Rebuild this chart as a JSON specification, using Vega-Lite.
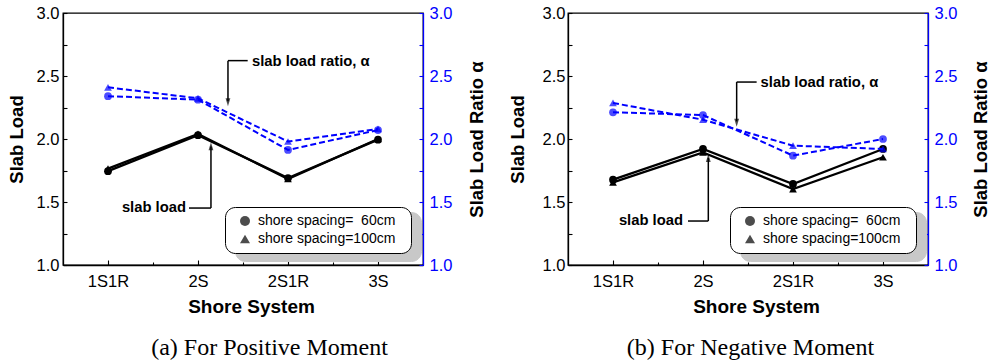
{
  "$schema": "https://vega.github.io/schema/vega-lite/v6.json",
  "background": "white",
  "padding": {"left": 6, "top": 4, "right": 0, "bottom": 0},
  "spacing": 19,
  "config": {
    "view": {"stroke": "black", "strokeWidth": 1.3},
    "axis": {"grid": false, "labelFont": "Liberation Sans", "labelFontSize": 16.5, "labelColor": "black", "titleFont": "Liberation Sans", "titleFontSize": 18.5, "titleFontWeight": "bold", "titleColor": "black", "domainColor": "black", "tickColor": "black", "domainWidth": 1.3, "tickWidth": 1.1},
    "legend": {"labelFont": "Liberation Sans", "labelFontSize": 14, "labelColor": "black"}
  },
  "resolve": {"scale": {"shape": "independent", "opacity": "independent"}},
  "datasets": {
    "values": [
      {"panel": "a", "system": "1S1R", "spacing": 60, "load": 1.745, "ratio": 2.34},
      {"panel": "a", "system": "1S1R", "spacing": 100, "load": 1.765, "ratio": 2.41},
      {"panel": "a", "system": "2S", "spacing": 60, "load": 2.03, "ratio": 2.312},
      {"panel": "a", "system": "2S", "spacing": 100, "load": 2.04, "ratio": 2.323},
      {"panel": "a", "system": "2S1R", "spacing": 60, "load": 1.69, "ratio": 1.913},
      {"panel": "a", "system": "2S1R", "spacing": 100, "load": 1.683, "ratio": 1.98},
      {"panel": "a", "system": "3S", "spacing": 60, "load": 1.995, "ratio": 2.071},
      {"panel": "a", "system": "3S", "spacing": 100, "load": 2.0, "ratio": 2.08},
      {"panel": "b", "system": "1S1R", "spacing": 60, "load": 1.677, "ratio": 2.212},
      {"panel": "b", "system": "1S1R", "spacing": 100, "load": 1.656, "ratio": 2.286},
      {"panel": "b", "system": "2S", "spacing": 60, "load": 1.921, "ratio": 2.19},
      {"panel": "b", "system": "2S", "spacing": 100, "load": 1.894, "ratio": 2.153},
      {"panel": "b", "system": "2S1R", "spacing": 60, "load": 1.643, "ratio": 1.868},
      {"panel": "b", "system": "2S1R", "spacing": 100, "load": 1.603, "ratio": 1.947},
      {"panel": "b", "system": "3S", "spacing": 60, "load": 1.921, "ratio": 2.0},
      {"panel": "b", "system": "3S", "spacing": 100, "load": 1.855, "ratio": 1.921}
    ],
    "annotations": [
      {"panel": "a", "kind": "seg", "x": 2.552, "x2": 2.333, "y": 2.622, "y2": 2.622},
      {"panel": "a", "kind": "seg", "x": 2.333, "x2": 2.333, "y": 2.622, "y2": 2.3},
      {"panel": "a", "kind": "down", "x": 2.333, "y": 2.259},
      {"panel": "a", "kind": "ratioLabel", "x": 2.6, "y": 2.609, "text": "slab load ratio, α"},
      {"panel": "a", "kind": "seg", "x": 1.9, "x2": 2.144, "y": 1.452, "y2": 1.452},
      {"panel": "a", "kind": "seg", "x": 2.144, "x2": 2.144, "y": 1.452, "y2": 1.94},
      {"panel": "a", "kind": "up", "x": 2.144, "y": 1.974},
      {"panel": "a", "kind": "loadLabel", "x": 1.867, "y": 1.452, "text": "slab load"},
      {"panel": "b", "kind": "seg", "x": 2.596, "x2": 2.374, "y": 2.452, "y2": 2.452},
      {"panel": "b", "kind": "seg", "x": 2.374, "x2": 2.374, "y": 2.452, "y2": 2.14},
      {"panel": "b", "kind": "down", "x": 2.374, "y": 2.098},
      {"panel": "b", "kind": "ratioLabel", "x": 2.64, "y": 2.444, "text": "slab load ratio, α"},
      {"panel": "b", "kind": "seg", "x": 1.833, "x2": 2.059, "y": 1.349, "y2": 1.349},
      {"panel": "b", "kind": "seg", "x": 2.059, "x2": 2.059, "y": 1.349, "y2": 1.85},
      {"panel": "b", "kind": "up", "x": 2.059, "y": 1.881},
      {"panel": "b", "kind": "loadLabel", "x": 1.778, "y": 1.349, "text": "slab load"}
    ]
  },
  "hconcat": [
    {
      "width": 360, "height": 252,
      "title": {"text": "(a) For Positive Moment", "orient": "bottom", "anchor": "middle", "frame": "group", "font": "Liberation Serif", "fontSize": 24, "fontWeight": "normal", "color": "black", "offset": 19, "dx": 26.5},
      "resolve": {"scale": {"x": "independent", "y": "independent"}},
      "layer": [
        {
          "data": {"name": "values"}, "transform": [{"filter": "datum.panel == 'a'"}],
          "mark": {"type": "line", "color": "black", "strokeWidth": 2.3},
          "encoding": {
            "x": {"field": "system", "type": "ordinal", "scale": {"type": "point", "domain": ["1S1R", "2S", "2S1R", "3S"], "padding": 0.5}, "axis": {"orient": "bottom", "title": "Shore System", "labelAngle": 0, "tickSize": -5, "labelPadding": 13, "titlePadding": 8, "titleX": 188, "titleFontSize": 19}},
            "y": {"field": "load", "type": "quantitative", "scale": {"domain": [1, 3], "nice": false, "zero": false}, "axis": {"orient": "left", "title": "Slab Load", "values": [1, 1.25, 1.5, 1.75, 2, 2.25, 2.5, 2.75, 3], "labelExpr": "datum.value % 0.5 == 0 ? format(datum.value, '.1f') : ''", "labelOverlap": false, "tickSize": -4, "labelPadding": 8, "titlePadding": 10}},
            "detail": {"field": "spacing", "type": "nominal"}
          }
        },
        {
          "data": {"name": "values"}, "transform": [{"filter": "datum.panel == 'a'"}],
          "mark": {"type": "point", "filled": true, "color": "black", "size": 60},
          "encoding": {
            "x": {"field": "system", "type": "ordinal", "scale": {"type": "point", "domain": ["1S1R", "2S", "2S1R", "3S"], "padding": 0.5}, "axis": null},
            "y": {"field": "load", "type": "quantitative", "scale": {"domain": [1, 3], "nice": false, "zero": false}, "axis": null},
            "shape": {"field": "spacing", "type": "nominal", "scale": {"domain": [60, 100], "range": ["circle", "triangle-up"]}, "legend": {"title": null, "orient": "bottom-right", "offset": 12, "fillColor": "white", "strokeColor": "black", "cornerRadius": 10, "padding": 7, "symbolSize": 100, "symbolOffset": 6, "labelOffset": 6, "rowPadding": 4, "labelLimit": 300, "symbolFillColor": "black", "symbolStrokeWidth": 0, "labelExpr": "'shore spacing=' + (datum.value == 60 ? '\u00a0\u00a060' : '100') + 'cm\u00a0\u00a0\u200b'", "zindex": 2}},
            "opacity": {"field": "spacing", "type": "ordinal", "scale": {"domain": [60, 100], "range": [1, 1]}, "legend": {"title": null, "orient": "none", "legendX": 172, "legendY": 199, "fillColor": "#c8c8c8", "strokeColor": "#c8c8c8", "cornerRadius": 10, "padding": 7, "symbolSize": 100, "symbolOffset": 6, "labelOffset": 6, "rowPadding": 4, "labelLimit": 300, "symbolFillColor": "#c8c8c8", "symbolStrokeColor": "#c8c8c8", "labelColor": "#c8c8c8", "labelExpr": "'shore spacing=' + (datum.value == 60 ? '\u00a0\u00a060' : '100') + 'cm\u00a0\u00a0\u200b'", "zindex": 1}}
          }
        },
        {
          "data": {"name": "values"}, "transform": [{"filter": "datum.panel == 'a'"}],
          "mark": {"type": "line", "color": "#0000ff", "strokeWidth": 2, "strokeDash": [6, 3]},
          "encoding": {
            "x": {"field": "system", "type": "ordinal", "scale": {"type": "point", "domain": ["1S1R", "2S", "2S1R", "3S"], "padding": 0.5}, "axis": null},
            "y": {"field": "ratio", "type": "quantitative", "scale": {"domain": [1, 3], "nice": false, "zero": false}, "axis": {"orient": "right", "title": "Slab Load Ratio α", "values": [1, 1.25, 1.5, 1.75, 2, 2.25, 2.5, 2.75, 3], "labelExpr": "datum.value % 0.5 == 0 ? format(datum.value, '.1f') : ''", "labelOverlap": false, "labelColor": "#0000ff", "domainColor": "#0000ff", "tickColor": "#0000ff", "tickSize": -4, "labelPadding": 10, "titlePadding": 16, "titleAngle": 270, "titleBaseline": "top"}},
            "detail": {"field": "spacing", "type": "nominal"}
          }
        },
        {
          "data": {"name": "values"}, "transform": [{"filter": "datum.panel == 'a'"}],
          "mark": {"type": "point", "filled": true, "color": "#0000ff", "size": 60},
          "encoding": {
            "x": {"field": "system", "type": "ordinal", "scale": {"type": "point", "domain": ["1S1R", "2S", "2S1R", "3S"], "padding": 0.5}, "axis": null},
            "y": {"field": "ratio", "type": "quantitative", "scale": {"domain": [1, 3], "nice": false, "zero": false}, "axis": null},
            "shape": {"field": "spacing", "type": "nominal", "scale": {"domain": [60, 100], "range": ["circle", "triangle-up"]}}
          }
        },
        {
          "data": {"name": "annotations"}, "transform": [{"filter": "datum.panel == 'a' && datum.kind == 'seg'"}],
          "mark": {"type": "rule", "color": "black", "strokeWidth": 1.5},
          "encoding": {
            "x": {"field": "x", "type": "quantitative", "scale": {"domain": [0.5, 4.5], "nice": false, "zero": false}, "axis": {"orient": "bottom", "values": [1.5, 2.5, 3.5], "labels": false, "domain": false, "title": null, "tickSize": -3}},
            "x2": {"field": "x2"},
            "y": {"field": "y", "type": "quantitative", "scale": {"domain": [1, 3], "nice": false, "zero": false}, "axis": null},
            "y2": {"field": "y2"}
          }
        },
        {
          "data": {"name": "annotations"}, "transform": [{"filter": "datum.panel == 'a' && datum.kind == 'down'"}],
          "mark": {"type": "point", "filled": true, "color": "black", "size": 64, "shape": "M0,0L-0.6,-2L0.6,-2Z"},
          "encoding": {
            "x": {"field": "x", "type": "quantitative", "scale": {"domain": [0.5, 4.5], "nice": false, "zero": false}, "axis": null},
            "y": {"field": "y", "type": "quantitative", "scale": {"domain": [1, 3], "nice": false, "zero": false}, "axis": null}
          }
        },
        {
          "data": {"name": "annotations"}, "transform": [{"filter": "datum.panel == 'a' && datum.kind == 'up'"}],
          "mark": {"type": "point", "filled": true, "color": "black", "size": 64, "shape": "M0,0L-0.6,2L0.6,2Z"},
          "encoding": {
            "x": {"field": "x", "type": "quantitative", "scale": {"domain": [0.5, 4.5], "nice": false, "zero": false}, "axis": null},
            "y": {"field": "y", "type": "quantitative", "scale": {"domain": [1, 3], "nice": false, "zero": false}, "axis": null}
          }
        },
        {
          "data": {"name": "annotations"}, "transform": [{"filter": "datum.panel == 'a' && datum.kind == 'ratioLabel'"}],
          "mark": {"type": "text", "align": "left", "baseline": "middle", "font": "Liberation Sans", "fontWeight": "bold", "fontSize": 14.8, "color": "black"},
          "encoding": {
            "x": {"field": "x", "type": "quantitative", "scale": {"domain": [0.5, 4.5], "nice": false, "zero": false}, "axis": null},
            "y": {"field": "y", "type": "quantitative", "scale": {"domain": [1, 3], "nice": false, "zero": false}, "axis": null},
            "text": {"field": "text"}
          }
        },
        {
          "data": {"name": "annotations"}, "transform": [{"filter": "datum.panel == 'a' && datum.kind == 'loadLabel'"}],
          "mark": {"type": "text", "align": "right", "baseline": "middle", "font": "Liberation Sans", "fontWeight": "bold", "fontSize": 14.8, "color": "black"},
          "encoding": {
            "x": {"field": "x", "type": "quantitative", "scale": {"domain": [0.5, 4.5], "nice": false, "zero": false}, "axis": null},
            "y": {"field": "y", "type": "quantitative", "scale": {"domain": [1, 3], "nice": false, "zero": false}, "axis": null},
            "text": {"field": "text"}
          }
        }
      ]
    },
    {
      "width": 360, "height": 252,
      "title": {"text": "(b) For Negative Moment", "orient": "bottom", "anchor": "middle", "frame": "group", "font": "Liberation Serif", "fontSize": 24, "fontWeight": "normal", "color": "black", "offset": 19, "dx": 2.5},
      "resolve": {"scale": {"x": "independent", "y": "independent"}},
      "layer": [
        {
          "data": {"name": "values"}, "transform": [{"filter": "datum.panel == 'b'"}],
          "mark": {"type": "line", "color": "black", "strokeWidth": 2.3},
          "encoding": {
            "x": {"field": "system", "type": "ordinal", "scale": {"type": "point", "domain": ["1S1R", "2S", "2S1R", "3S"], "padding": 0.5}, "axis": {"orient": "bottom", "title": "Shore System", "labelAngle": 0, "tickSize": -5, "labelPadding": 13, "titlePadding": 8, "titleX": 188, "titleFontSize": 19}},
            "y": {"field": "load", "type": "quantitative", "scale": {"domain": [1, 3], "nice": false, "zero": false}, "axis": {"orient": "left", "title": "Slab Load", "values": [1, 1.25, 1.5, 1.75, 2, 2.25, 2.5, 2.75, 3], "labelExpr": "datum.value % 0.5 == 0 ? format(datum.value, '.1f') : ''", "labelOverlap": false, "tickSize": -4, "labelPadding": 7, "titlePadding": 15}},
            "detail": {"field": "spacing", "type": "nominal"}
          }
        },
        {
          "data": {"name": "values"}, "transform": [{"filter": "datum.panel == 'b'"}],
          "mark": {"type": "point", "filled": true, "color": "black", "size": 60},
          "encoding": {
            "x": {"field": "system", "type": "ordinal", "scale": {"type": "point", "domain": ["1S1R", "2S", "2S1R", "3S"], "padding": 0.5}, "axis": null},
            "y": {"field": "load", "type": "quantitative", "scale": {"domain": [1, 3], "nice": false, "zero": false}, "axis": null},
            "shape": {"field": "spacing", "type": "nominal", "scale": {"domain": [60, 100], "range": ["circle", "triangle-up"]}, "legend": {"title": null, "orient": "bottom-right", "offset": 12, "fillColor": "white", "strokeColor": "black", "cornerRadius": 10, "padding": 7, "symbolSize": 100, "symbolOffset": 6, "labelOffset": 6, "rowPadding": 4, "labelLimit": 300, "symbolFillColor": "black", "symbolStrokeWidth": 0, "labelExpr": "'shore spacing=' + (datum.value == 60 ? '\u00a0\u00a060' : '100') + 'cm\u00a0\u00a0\u200b'", "zindex": 2}},
            "opacity": {"field": "spacing", "type": "ordinal", "scale": {"domain": [60, 100], "range": [1, 1]}, "legend": {"title": null, "orient": "none", "legendX": 172, "legendY": 199, "fillColor": "#c8c8c8", "strokeColor": "#c8c8c8", "cornerRadius": 10, "padding": 7, "symbolSize": 100, "symbolOffset": 6, "labelOffset": 6, "rowPadding": 4, "labelLimit": 300, "symbolFillColor": "#c8c8c8", "symbolStrokeColor": "#c8c8c8", "labelColor": "#c8c8c8", "labelExpr": "'shore spacing=' + (datum.value == 60 ? '\u00a0\u00a060' : '100') + 'cm\u00a0\u00a0\u200b'", "zindex": 1}}
          }
        },
        {
          "data": {"name": "values"}, "transform": [{"filter": "datum.panel == 'b'"}],
          "mark": {"type": "line", "color": "#0000ff", "strokeWidth": 2, "strokeDash": [6, 3]},
          "encoding": {
            "x": {"field": "system", "type": "ordinal", "scale": {"type": "point", "domain": ["1S1R", "2S", "2S1R", "3S"], "padding": 0.5}, "axis": null},
            "y": {"field": "ratio", "type": "quantitative", "scale": {"domain": [1, 3], "nice": false, "zero": false}, "axis": {"orient": "right", "title": "Slab Load Ratio α", "values": [1, 1.25, 1.5, 1.75, 2, 2.25, 2.5, 2.75, 3], "labelExpr": "datum.value % 0.5 == 0 ? format(datum.value, '.1f') : ''", "labelOverlap": false, "labelColor": "#0000ff", "domainColor": "#0000ff", "tickColor": "#0000ff", "tickSize": -4, "labelPadding": 10, "titlePadding": 15, "titleAngle": 270, "titleBaseline": "top"}},
            "detail": {"field": "spacing", "type": "nominal"}
          }
        },
        {
          "data": {"name": "values"}, "transform": [{"filter": "datum.panel == 'b'"}],
          "mark": {"type": "point", "filled": true, "color": "#0000ff", "size": 60},
          "encoding": {
            "x": {"field": "system", "type": "ordinal", "scale": {"type": "point", "domain": ["1S1R", "2S", "2S1R", "3S"], "padding": 0.5}, "axis": null},
            "y": {"field": "ratio", "type": "quantitative", "scale": {"domain": [1, 3], "nice": false, "zero": false}, "axis": null},
            "shape": {"field": "spacing", "type": "nominal", "scale": {"domain": [60, 100], "range": ["circle", "triangle-up"]}}
          }
        },
        {
          "data": {"name": "annotations"}, "transform": [{"filter": "datum.panel == 'b' && datum.kind == 'seg'"}],
          "mark": {"type": "rule", "color": "black", "strokeWidth": 1.5},
          "encoding": {
            "x": {"field": "x", "type": "quantitative", "scale": {"domain": [0.5, 4.5], "nice": false, "zero": false}, "axis": {"orient": "bottom", "values": [1.5, 2.5, 3.5], "labels": false, "domain": false, "title": null, "tickSize": -3}},
            "x2": {"field": "x2"},
            "y": {"field": "y", "type": "quantitative", "scale": {"domain": [1, 3], "nice": false, "zero": false}, "axis": null},
            "y2": {"field": "y2"}
          }
        },
        {
          "data": {"name": "annotations"}, "transform": [{"filter": "datum.panel == 'b' && datum.kind == 'down'"}],
          "mark": {"type": "point", "filled": true, "color": "black", "size": 64, "shape": "M0,0L-0.6,-2L0.6,-2Z"},
          "encoding": {
            "x": {"field": "x", "type": "quantitative", "scale": {"domain": [0.5, 4.5], "nice": false, "zero": false}, "axis": null},
            "y": {"field": "y", "type": "quantitative", "scale": {"domain": [1, 3], "nice": false, "zero": false}, "axis": null}
          }
        },
        {
          "data": {"name": "annotations"}, "transform": [{"filter": "datum.panel == 'b' && datum.kind == 'up'"}],
          "mark": {"type": "point", "filled": true, "color": "black", "size": 64, "shape": "M0,0L-0.6,2L0.6,2Z"},
          "encoding": {
            "x": {"field": "x", "type": "quantitative", "scale": {"domain": [0.5, 4.5], "nice": false, "zero": false}, "axis": null},
            "y": {"field": "y", "type": "quantitative", "scale": {"domain": [1, 3], "nice": false, "zero": false}, "axis": null}
          }
        },
        {
          "data": {"name": "annotations"}, "transform": [{"filter": "datum.panel == 'b' && datum.kind == 'ratioLabel'"}],
          "mark": {"type": "text", "align": "left", "baseline": "middle", "font": "Liberation Sans", "fontWeight": "bold", "fontSize": 14.8, "color": "black"},
          "encoding": {
            "x": {"field": "x", "type": "quantitative", "scale": {"domain": [0.5, 4.5], "nice": false, "zero": false}, "axis": null},
            "y": {"field": "y", "type": "quantitative", "scale": {"domain": [1, 3], "nice": false, "zero": false}, "axis": null},
            "text": {"field": "text"}
          }
        },
        {
          "data": {"name": "annotations"}, "transform": [{"filter": "datum.panel == 'b' && datum.kind == 'loadLabel'"}],
          "mark": {"type": "text", "align": "right", "baseline": "middle", "font": "Liberation Sans", "fontWeight": "bold", "fontSize": 14.8, "color": "black"},
          "encoding": {
            "x": {"field": "x", "type": "quantitative", "scale": {"domain": [0.5, 4.5], "nice": false, "zero": false}, "axis": null},
            "y": {"field": "y", "type": "quantitative", "scale": {"domain": [1, 3], "nice": false, "zero": false}, "axis": null},
            "text": {"field": "text"}
          }
        }
      ]
    }
  ]
}
